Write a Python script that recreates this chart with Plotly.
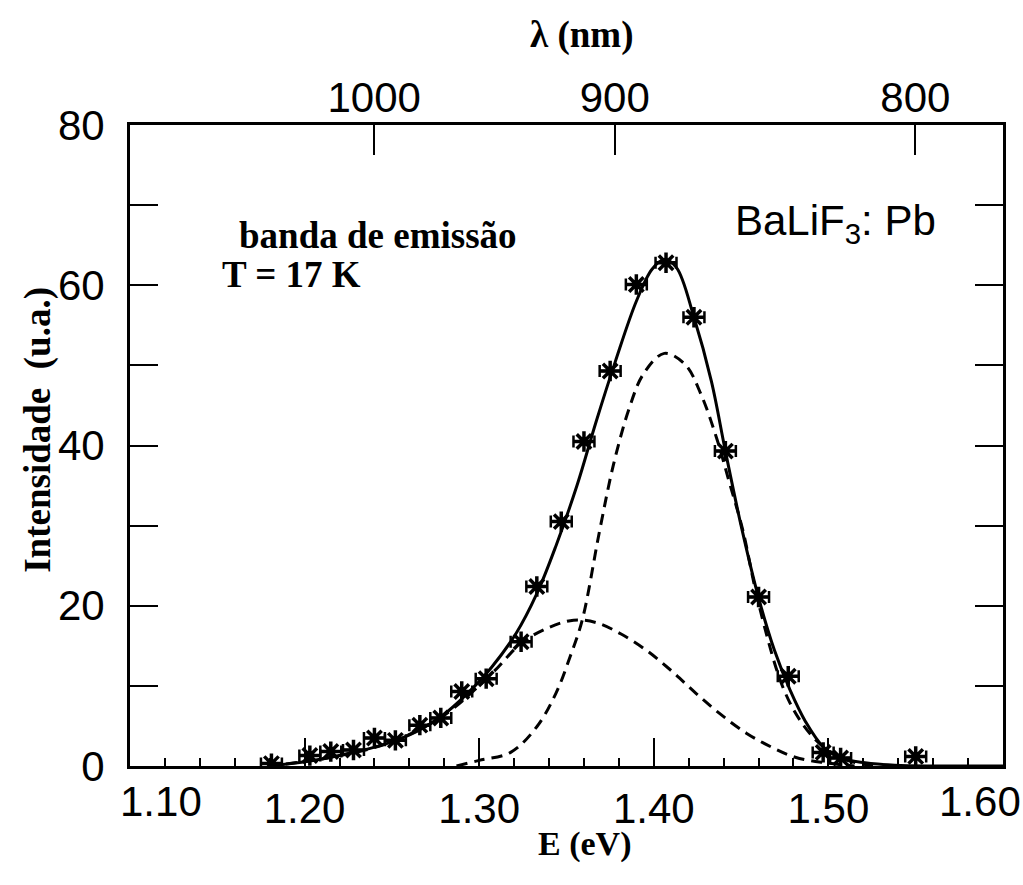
import plotly.graph_objects as go

# Experimental points (E in eV, intensity in a.u.)
pts_E = [1.181, 1.203, 1.215, 1.228, 1.240, 1.252, 1.266, 1.278, 1.290, 1.304,
         1.324, 1.333, 1.347, 1.360, 1.375, 1.390, 1.407, 1.423, 1.441, 1.460,
         1.477, 1.497, 1.507, 1.550]
pts_I = [0.3, 1.3, 1.8, 2.0, 3.5, 3.2, 5.1, 6.0, 9.3, 10.9,
         15.5, 22.4, 30.5, 40.5, 49.3, 60.1, 62.8, 56.0, 39.3, 21.1,
         11.2, 1.7, 1.0, 1.2]

# Total fit (solid line)
fit_E = [1.179, 1.196, 1.213, 1.230, 1.247, 1.264, 1.279, 1.293, 1.307, 1.321,
         1.333, 1.344, 1.356, 1.367, 1.378, 1.390, 1.399, 1.406, 1.413, 1.423,
         1.433, 1.441, 1.450, 1.460, 1.469, 1.478, 1.487, 1.497, 1.507, 1.521,
         1.538, 1.560, 1.600]
fit_I = [0.0, 0.4, 1.0, 1.8, 2.8, 4.3, 6.3, 9.0, 12.3, 16.5,
         21.5, 27.5, 35.0, 43.0, 50.5, 58.0, 62.0, 63.2, 62.2, 56.0,
         48.0, 39.3, 30.0, 21.0, 14.5, 9.5, 5.5, 2.4, 1.0, 0.4,
         0.1, 0.0, 0.0]

# Narrow component (dashed)
g1_E = [1.287, 1.300, 1.318, 1.333, 1.344, 1.352, 1.359, 1.369, 1.377, 1.386,
        1.394, 1.406, 1.418, 1.427, 1.436, 1.443, 1.451, 1.460, 1.474, 1.485,
        1.497, 1.511, 1.527]
g1_I = [0.0, 0.7, 1.7, 4.9, 9.1, 13.6, 18.2, 29.4, 37.7, 44.7,
        48.9, 51.5, 50.1, 46.4, 40.9, 35.6, 29.4, 20.3, 9.8, 5.3,
        2.4, 0.7, 0.0]

# Broad component (dashed)
g2_E = [1.179, 1.213, 1.247, 1.279, 1.307, 1.324, 1.339, 1.354, 1.367, 1.381,
        1.396, 1.410, 1.424, 1.438, 1.453, 1.467, 1.481, 1.498, 1.515]
g2_I = [0.0, 1.0, 2.8, 6.2, 11.5, 15.3, 17.2, 18.2, 17.9, 16.5,
        14.4, 11.9, 9.1, 6.5, 4.1, 2.4, 1.1, 0.4, 0.0]

# Axis ticks
x_ticks = [1.20, 1.30, 1.40, 1.50]
x_ticktext = ["1.20", "1.30", "1.40", "1.50"]
x_edge_ticks = [1.10, 1.60]          # labels drawn nudged inward, as in the original
x_edge_text = ["1.10", "1.60"]
x_edge_shift = [31, -23]
y_ticks = [0, 20, 40, 60, 80]
y_ticktext = ["0", "20", "40", "60", "80"]
lam_ticks_nm = [1000, 900, 800]
HC = 1239.84  # eV*nm

fig = go.Figure()

dash_style = "11px,7px"
fig.add_trace(go.Scatter(x=g2_E, y=g2_I, mode="lines", line=dict(color="black", width=3, dash=dash_style, shape="spline"),
                         showlegend=False, hoverinfo="skip"))
fig.add_trace(go.Scatter(x=g1_E, y=g1_I, mode="lines", line=dict(color="black", width=3, dash=dash_style, shape="spline"),
                         showlegend=False, hoverinfo="skip"))
fig.add_trace(go.Scatter(x=fit_E, y=fit_I, mode="lines", line=dict(color="black", width=3, shape="spline"),
                         showlegend=False, hoverinfo="skip"))
fig.add_trace(go.Scatter(x=pts_E, y=pts_I, mode="markers",
                         marker=dict(symbol="asterisk-open", size=17, color="black", line=dict(color="black", width=3.5)),
                         error_x=dict(type="constant", value=0.006, thickness=2.5, width=6, color="black"),
                         showlegend=False))
# top wavelength axis carrier (same E data on x2)
fig.add_trace(go.Scatter(x=fit_E, y=fit_I, xaxis="x2", mode="lines", line=dict(color="rgba(0,0,0,0)"),
                         showlegend=False, hoverinfo="skip"))

sans = "Liberation Sans"
serif = "Liberation Serif"
TF = 42
XR = [1.10, 1.60]

annotations = [
    dict(text="<b>E (eV)</b>", x=0.521, y=-0.121, xref="paper", yref="paper",
         showarrow=False, font=dict(family=serif, size=34, color="black"), xanchor="center", yanchor="middle"),
    dict(text="<b>λ (nm)</b>", x=0.517, y=1.140, xref="paper", yref="paper",
         showarrow=False, font=dict(family=serif, size=37, color="black"), xanchor="center", yanchor="middle"),
    dict(text="<b>Intensidade  (u.a.)</b>", x=-0.105, y=0.525, xref="paper", yref="paper", textangle=-90,
         showarrow=False, font=dict(family=serif, size=37, color="black"), xanchor="center", yanchor="middle"),
    dict(text="<b>banda de emissão</b>", x=0.1226, y=0.827, xref="paper", yref="paper",
         showarrow=False, font=dict(family=serif, size=37, color="black"), xanchor="left", yanchor="middle"),
    dict(text="<b>T = 17 K</b>", x=0.103, y=0.767, xref="paper", yref="paper",
         showarrow=False, font=dict(family=serif, size=37, color="black"), xanchor="left", yanchor="middle"),
    dict(text="BaLiF<sub>3</sub>: Pb", x=0.691, y=0.846, xref="paper", yref="paper",
         showarrow=False, font=dict(family=sans, size=42, color="black"), xanchor="left", yanchor="middle"),
]
for v, t, s in zip(x_edge_ticks, x_edge_text, x_edge_shift):
    annotations.append(dict(text=t, x=v, xref="x", y=-0.056, yref="paper", xshift=s,
                            showarrow=False, font=dict(family=sans, size=TF, color="black"),
                            xanchor="center", yanchor="middle"))

fig.update_layout(
    width=1023, height=885,
    margin=dict(l=130, r=20, t=125, b=119),
    paper_bgcolor="white", plot_bgcolor="white",
    xaxis=dict(range=XR, tickvals=x_ticks, ticktext=x_ticktext,
               ticks="inside", ticklen=28, tickwidth=2, tickcolor="black",
               minor=dict(dtick=0.02, tick0=1.10, ticks="inside", ticklen=8, tickwidth=2, tickcolor="black", showgrid=False),
               showline=True, linecolor="black", linewidth=3, mirror=True,
               showgrid=False, zeroline=False,
               tickfont=dict(family=sans, size=TF, color="black"), ticklabelstandoff=4),
    xaxis2=dict(range=XR, overlaying="x", side="top", anchor="y",
                tickvals=[HC / l for l in lam_ticks_nm], ticktext=[str(l) for l in lam_ticks_nm],
                ticks="inside", ticklen=30, tickwidth=2, tickcolor="black",
                showline=False, showgrid=False, zeroline=False,
                tickfont=dict(family=sans, size=TF, color="black"), ticklabelstandoff=4),
    yaxis=dict(range=[0, 80], tickvals=y_ticks, ticktext=y_ticktext,
               ticks="inside", ticklen=28, tickwidth=2, tickcolor="black",
               minor=dict(dtick=10, tick0=0, ticks="inside", ticklen=28, tickwidth=2, tickcolor="black", showgrid=False),
               showline=True, linecolor="black", linewidth=3, mirror="ticks",
               showgrid=False, zeroline=False,
               tickfont=dict(family=sans, size=TF, color="black"), ticklabelstandoff=14),
    annotations=annotations,
)

fig.write_html("out.html")
